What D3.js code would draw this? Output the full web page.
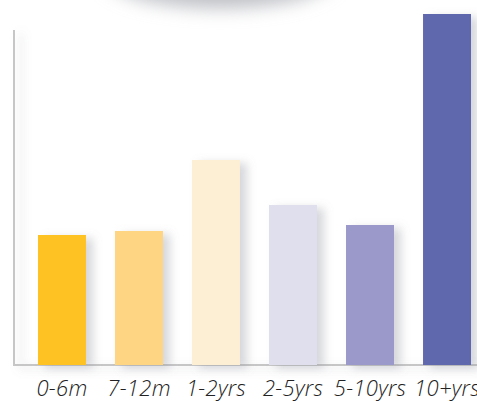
<!DOCTYPE html>
<meta charset="utf-8">
<style>
body { margin: 0; background: #fff; }
svg { display: block; }
.label { font-family: "Open Sans", sans-serif; font-style: italic; font-weight: 300; font-size: 22px; fill: #222; letter-spacing: 0.3px; }
</style>
<body>
<script src="https://d3js.org/d3.v7.min.js"></script>
<script>
// data
var categories = ["0-6m", "7-12m", "1-2yrs", "2-5yrs", "5-10yrs", "10+yrs"];
var values = [130, 134, 205, 160, 140, 351];
var colors = ["#fec224", "#fdd583", "#fdefd4", "#e0dfee", "#9a99c9", "#6068ad"];

var width = 477, height = 401;
var margin = {left: 14, bottom: 365};

var svg = d3.select("body").append("svg")
    .attr("width", width)
    .attr("height", height);

var defs = svg.append("defs");
var shadow = defs.append("filter").attr("id", "shadow")
    .attr("x", "-20%").attr("y", "-10%").attr("width", "160%").attr("height", "130%");
shadow.append("feDropShadow")
    .attr("dx", 7).attr("dy", 3).attr("stdDeviation", 5)
    .attr("flood-color", "#8a8f99").attr("flood-opacity", 0.35);

var blur = defs.append("filter").attr("id", "blur")
    .attr("x", "-50%").attr("y", "-50%").attr("width", "200%").attr("height", "200%");
blur.append("feGaussianBlur").attr("stdDeviation", 9);

// soft shadow of something sitting above the chart
svg.append("ellipse")
    .attr("cx", 220).attr("cy", -24)
    .attr("rx", 114).attr("ry", 32)
    .attr("fill", "#bdbfc4")
    .attr("filter", "url(#blur)");

var x = d3.scaleBand()
    .domain(categories)
    .range([38, 471])
    .paddingInner(0.377)
    .paddingOuter(0);

var y = d3.scaleLinear()
    .domain([0, 351])
    .range([margin.bottom, 14]);

// axes frame
var frame = svg.append("g").attr("filter", "url(#shadow)");
frame.append("path")
    .attr("d", "M" + margin.left + ",30V" + margin.bottom + "H" + width)
    .attr("fill", "none")
    .attr("stroke", "#c6c6c6")
    .attr("stroke-width", 2);

svg.selectAll("rect.bar")
    .data(values)
    .enter()
    .append("rect")
    .attr("class", "bar")
    .attr("x", function(d, i) { return x(categories[i]); })
    .attr("y", function(d) { return y(d); })
    .attr("width", x.bandwidth())
    .attr("height", function(d) { return y(0) - y(d); })
    .attr("fill", function(d, i) { return colors[i]; })
    .attr("filter", "url(#shadow)");

svg.selectAll("text.label")
    .data(categories)
    .enter()
    .append("text")
    .attr("class", "label")
    .attr("x", function(d) { return x(d) + x.bandwidth() / 2; })
    .attr("y", 396)
    .attr("text-anchor", "middle")
    .text(function(d) { return d; });
</script>
</body>
